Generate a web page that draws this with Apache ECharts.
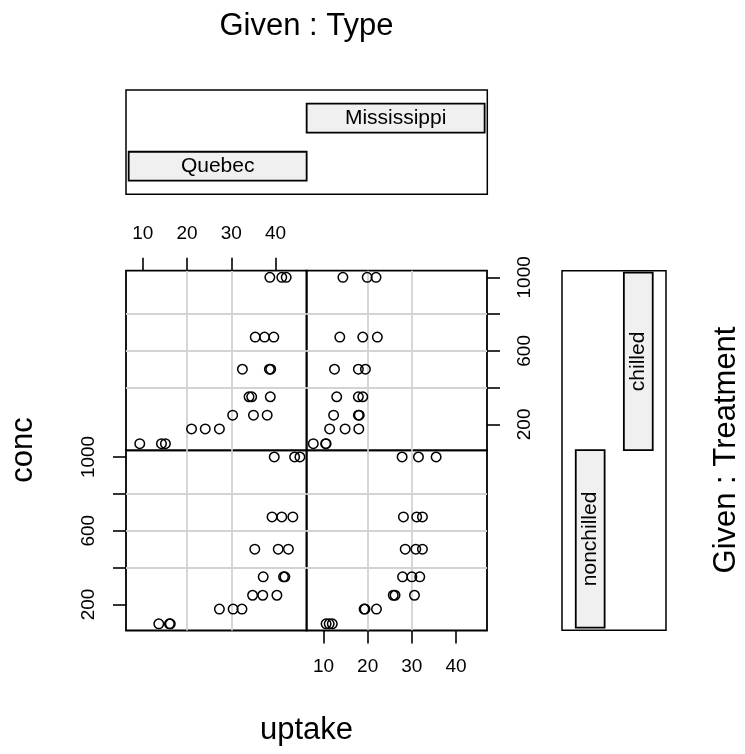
<!DOCTYPE html>
<html><head><meta charset="utf-8">
<script src="https://cdn.jsdelivr.net/npm/echarts@6/dist/echarts.min.js"></script>
<style>html,body{margin:0;padding:0;background:#fff}#c{width:745px;height:754px}</style>
</head><body><div id="c"></div>
<script>
// ---- data (CO2 uptake vs concentration) ----
const conc = [95, 175, 250, 350, 500, 675, 1000];
const uptakeQn1 = [16.0, 30.4, 34.8, 37.2, 35.3, 39.2, 39.7];
const uptakeQn2 = [13.6, 27.3, 37.1, 41.8, 40.6, 41.4, 44.3];
const uptakeQn3 = [16.2, 32.4, 40.3, 42.1, 42.9, 43.9, 45.5];
const uptakeQc1 = [14.2, 24.1, 30.3, 34.6, 32.5, 35.4, 38.7];
const uptakeQc2 = [9.3, 27.3, 35.0, 38.8, 38.6, 37.5, 42.4];
const uptakeQc3 = [15.1, 21.0, 38.1, 34.0, 38.9, 39.6, 41.4];
const uptakeMn1 = [10.6, 19.2, 26.2, 30.0, 30.9, 32.4, 35.5];
const uptakeMn2 = [12.0, 22.0, 30.6, 31.8, 32.4, 31.1, 31.5];
const uptakeMn3 = [11.3, 19.4, 25.8, 27.9, 28.5, 28.1, 27.8];
const uptakeMc1 = [10.5, 14.9, 18.1, 18.9, 19.5, 22.2, 21.9];
const uptakeMc2 = [7.7, 11.4, 12.3, 13.0, 12.5, 13.7, 14.4];
const uptakeMc3 = [10.6, 18.0, 17.9, 17.9, 17.9, 18.9, 19.9];

const typeLevels = ['Quebec', 'Mississippi'];
const treatmentLevels = ['nonchilled', 'chilled'];
const xTicks = [10, 20, 30, 40];
const yTicks = [200, 400, 600, 800, 1000];
const yTickLabels = [200, 600, 1000];

const panelGroups = {
  'Quebec|chilled': [uptakeQc1, uptakeQc2, uptakeQc3],
  'Mississippi|chilled': [uptakeMc1, uptakeMc2, uptakeMc3],
  'Quebec|nonchilled': [uptakeQn1, uptakeQn2, uptakeQn3],
  'Mississippi|nonchilled': [uptakeMn1, uptakeMn2, uptakeMn3]
};

// ---- layout ----
const FONT = "'Liberation Sans', Arial, Helvetica, sans-serif";
const PX = [126, 306.6, 487];
const PY = [270.7, 450.3, 630.5];

const allU = [].concat(...Object.values(panelGroups).flat());
const uMin = Math.min(...allU), uMax = Math.max(...allU);
const cMin = Math.min(...conc), cMax = Math.max(...conc);
const xMin = uMin - 0.04 * (uMax - uMin), xMax = uMax + 0.04 * (uMax - uMin);
const yMin = cMin - 0.04 * (cMax - cMin), yMax = cMax + 0.04 * (cMax - cMin);

const grids = [], xAxes = [], yAxes = [], series = [];
const rowsTreat = ['chilled', 'nonchilled'];
for (let r = 0; r < 2; r++) {
  for (let c = 0; c < 2; c++) {
    const gi = r * 2 + c;
    grids.push({
      left: PX[c], top: PY[r], width: PX[c + 1] - PX[c], height: PY[r + 1] - PY[r],
      show: true, borderColor: '#000', borderWidth: 1.8, backgroundColor: 'transparent',
      containLabel: false, outerBoundsMode: 'none'
    });
    const showX = (r === 0 && c === 0) || (r === 1 && c === 1);
    const showY = (r === 0 && c === 1) || (r === 1 && c === 0);
    xAxes.push({
      type: 'value', gridIndex: gi, min: xMin, max: xMax,
      position: (r === 0) ? 'top' : 'bottom',
      axisLine: { show: false },
      axisTick: { show: showX, length: 13, customValues: xTicks, lineStyle: { color: '#000', width: 1.6 } },
      axisLabel: { show: showX, customValues: xTicks, margin: 27, color: '#000', fontSize: 19, fontFamily: FONT,
        formatter: v => String(v) },
      splitLine: { show: true, showMinLine: false, showMaxLine: false, lineStyle: { color: '#d3d3d3', width: 1.8 } }
    });
    yAxes.push({
      type: 'value', gridIndex: gi, min: yMin, max: yMax,
      position: (c === 1) ? 'right' : 'left',
      axisLine: { show: false },
      axisTick: { show: showY, length: 13, customValues: yTicks, lineStyle: { color: '#000', width: 1.6 } },
      axisLabel: { show: showY, customValues: yTickLabels, margin: 28, rotate: 90, color: '#000', fontSize: 19, fontFamily: FONT,
        formatter: v => String(v) },
      splitLine: { show: true, showMinLine: false, showMaxLine: false, lineStyle: { color: '#d3d3d3', width: 1.8 } }
    });
    const key = typeLevels[c] + '|' + rowsTreat[r];
    const pts = [];
    panelGroups[key].forEach(arr => arr.forEach((u, i) => pts.push([u, conc[i]])));
    series.push({
      type: 'scatter', xAxisIndex: gi, yAxisIndex: gi, data: pts,
      symbol: 'circle', symbolSize: 9.5, silent: true,
      itemStyle: { color: 'rgba(0,0,0,0)', borderColor: '#000', borderWidth: 1.5, opacity: 1 },
      z: 5
    });
  }
}

// given panel: Type (top)
grids.push({ left: 126, top: 90, width: 361.3, height: 104.3, show: true, borderColor: '#000', borderWidth: 1.5, backgroundColor: 'transparent', outerBoundsMode: 'none' });
xAxes.push({ type: 'value', gridIndex: 4, min: 0.485, max: 2.515, show: false });
yAxes.push({ type: 'value', gridIndex: 4, min: 0.415, max: 2.585, show: false });
series.push({
  type: 'custom', xAxisIndex: 4, yAxisIndex: 4,
  data: typeLevels.map((n, i) => [i + 1, i + 1]),
  renderItem: function (params, api) {
    const lv = api.value(0);
    const p0 = api.coord([lv - 0.5, lv + 0.3]);
    const p1 = api.coord([lv + 0.5, lv - 0.3]);
    return { type: 'group', children: [
      { type: 'rect', shape: { x: p0[0], y: p0[1], width: p1[0] - p0[0], height: p1[1] - p0[1] },
        style: { fill: '#f0f0f0', stroke: '#000', lineWidth: 1.8 } },
      { type: 'text', x: (p0[0] + p1[0]) / 2, y: (p0[1] + p1[1]) / 2,
        style: { text: typeLevels[params.dataIndex], font: '21px ' + FONT, fill: '#000', align: 'center', verticalAlign: 'middle' } }
    ] };
  }
});

// given panel: Treatment (right)
grids.push({ left: 562, top: 270.7, width: 104, height: 359.6, show: true, borderColor: '#000', borderWidth: 1.5, backgroundColor: 'transparent', outerBoundsMode: 'none' });
xAxes.push({ type: 'value', gridIndex: 5, min: 0.414, max: 2.576, show: false });
yAxes.push({ type: 'value', gridIndex: 5, min: 0.485, max: 2.511, show: false });
series.push({
  type: 'custom', xAxisIndex: 5, yAxisIndex: 5,
  data: treatmentLevels.map((n, i) => [i + 1, i + 1]),
  renderItem: function (params, api) {
    const lv = api.value(0);
    const p0 = api.coord([lv - 0.3, lv + 0.5]);
    const p1 = api.coord([lv + 0.3, lv - 0.5]);
    return { type: 'group', children: [
      { type: 'rect', shape: { x: p0[0], y: p0[1], width: p1[0] - p0[0], height: p1[1] - p0[1] },
        style: { fill: '#f0f0f0', stroke: '#000', lineWidth: 1.8 } },
      { type: 'text', x: (p0[0] + p1[0]) / 2, y: (p0[1] + p1[1]) / 2, rotation: Math.PI / 2,
        style: { text: treatmentLevels[params.dataIndex], font: '21px ' + FONT, fill: '#000', align: 'center', verticalAlign: 'middle' } }
    ] };
  }
});

const chart = echarts.init(document.getElementById('c'), null, { renderer: 'canvas' });
chart.setOption({
  animation: false,
  backgroundColor: '#fff',
  grid: grids, xAxis: xAxes, yAxis: yAxes, series: series,
  graphic: [
    { type: 'text', x: 306.5, y: 26, style: { text: 'Given : Type', font: '31px ' + FONT, fill: '#000', align: 'center', verticalAlign: 'middle' } },
    { type: 'text', x: 306.5, y: 730, style: { text: 'uptake', font: '31px ' + FONT, fill: '#000', align: 'center', verticalAlign: 'middle' } },
    { type: 'text', x: 23, y: 450, rotation: Math.PI / 2, style: { text: 'conc', font: '31px ' + FONT, fill: '#000', align: 'center', verticalAlign: 'middle' } },
    { type: 'text', x: 726, y: 450, rotation: Math.PI / 2, style: { text: 'Given : Treatment', font: '31px ' + FONT, fill: '#000', align: 'center', verticalAlign: 'middle' } }
  ]
});
</script></body></html>
